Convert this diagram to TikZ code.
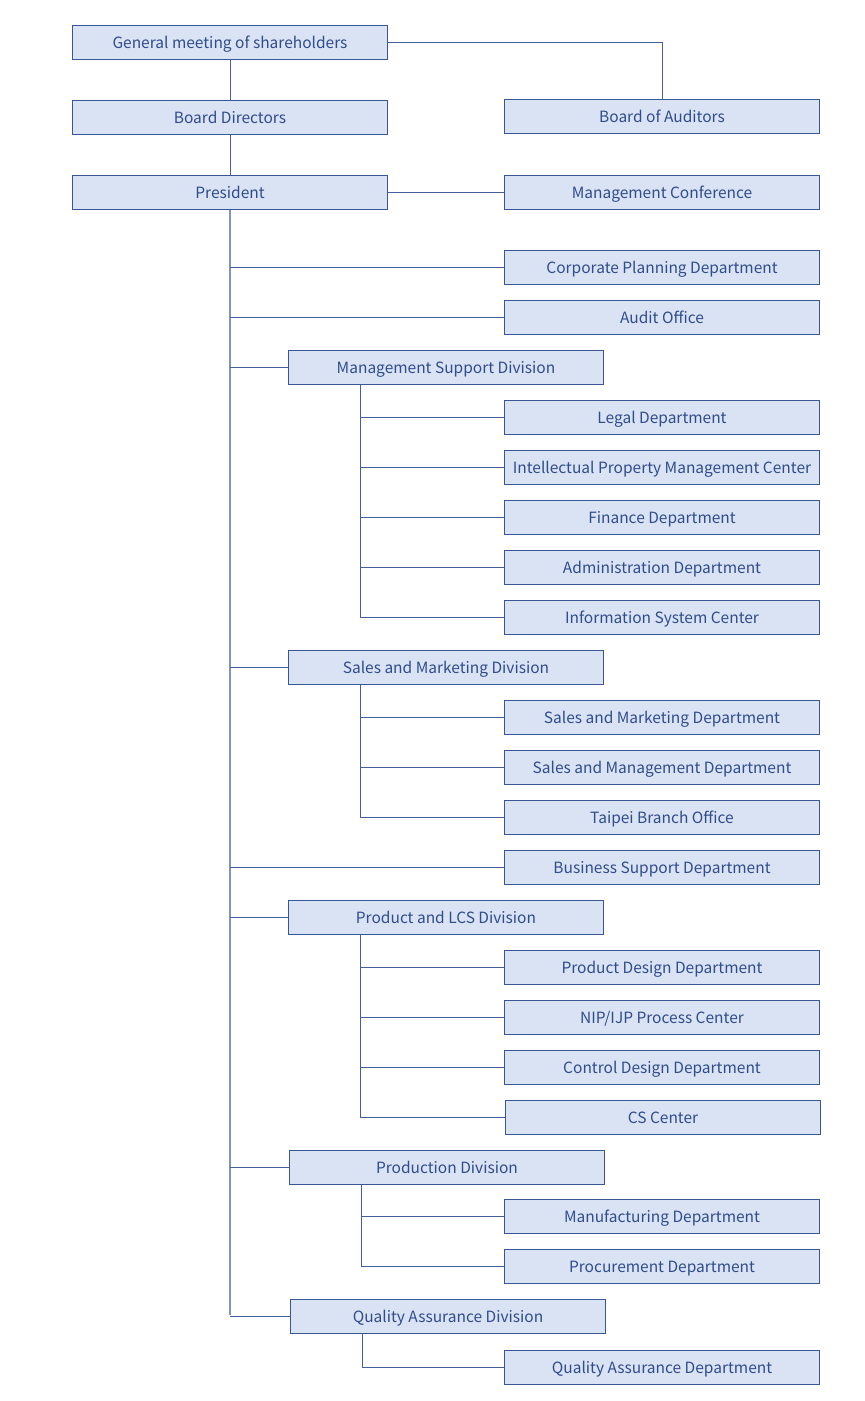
\documentclass[tikz,border=0pt]{standalone}
\usepackage{fontspec}
\setmainfont{Noto Sans CJK JP}
\definecolor{boxfill}{HTML}{DAE3F3}
\definecolor{boxline}{HTML}{3A5795}
\definecolor{txt}{HTML}{2F4C8C}
\definecolor{conn}{HTML}{44609C}
\definecolor{trunk}{HTML}{7F95BE}
\begin{document}
\begin{tikzpicture}[x=1pt,y=-1pt,
  box/.style={draw=boxline,fill=boxfill,line width=1pt,minimum width=315pt,minimum height=34pt,
    inner sep=0pt,text height=11pt,text depth=0pt,text=txt,font=\fontsize{15.5}{17}\selectfont,anchor=north west},
  ln/.style={draw=conn,line width=0.9pt},
  tr/.style={draw=trunk,line width=1.2pt}]
\useasboundingbox (0,0) rectangle (865,1401);
\node[box] (gm) at (72,25) {General meeting of shareholders};
\node[box] (bd) at (72,100) {Board Directors};
\node[box] (pr) at (72,175) {President};
\node[box] (ba) at (504,99) {Board of Auditors};
\node[box] (mc) at (504,175) {Management Conference};
\node[box] (cp) at (504,250) {Corporate Planning Department};
\node[box] (ao) at (504,300) {Audit Office};
\node[box] (msd) at (288,350) {Management Support Division};
\node[box] (lg) at (504,400) {Legal Department};
\node[box] (ip) at (504,450) {Intellectual Property Management Center};
\node[box] (fd) at (504,500) {Finance Department};
\node[box] (ad) at (504,550) {Administration Department};
\node[box] (is) at (504,600) {Information System Center};
\node[box] (smd) at (288,650) {Sales and Marketing Division};
\node[box] (smdep) at (504,700) {Sales and Marketing Department};
\node[box] (smg) at (504,750) {Sales and Management Department};
\node[box] (tb) at (504,800) {Taipei Branch Office};
\node[box] (bs) at (504,850) {Business Support Department};
\node[box] (pld) at (288,900) {Product and LCS Division};
\node[box] (pdd) at (504,950) {Product Design Department};
\node[box] (nip) at (504,1000) {NIP/IJP Process Center};
\node[box] (cd) at (504,1050) {Control Design Department};
\node[box] (cs) at (505,1100) {CS Center};
\node[box] (prd) at (289,1150) {Production Division};
\node[box] (mf) at (504,1199) {Manufacturing Department};
\node[box] (pc) at (504,1249) {Procurement Department};
\node[box] (qad) at (290,1299) {Quality Assurance Division};
\node[box] (qa) at (504,1350) {Quality Assurance Department};
% coordinates
\coordinate (tb0) at (230,209);
\coordinate (tb1) at (230,1315);
% top links
\draw[ln] (gm.south) -- (bd.north);
\draw[ln] (bd.south) -- (pr.north);
\draw[ln] (gm.east) -| (ba.north);
\draw[ln] (pr.east) -- (mc.west);
% trunk
\draw[tr] (pr.south) -- (tb1);
\foreach \n in {cp,ao,bs}{\draw[ln] (\n.west) -- (\n.west -| tb0);}
\foreach \n in {msd,smd,pld,prd,qad}{\draw[ln] (\n.west) -- (\n.west -| tb0);}
% sub trees
\foreach \d/\last/\kids in {msd/is/{lg,ip,fd,ad,is}, smd/tb/{smdep,smg,tb}, pld/cs/{pdd,nip,cd,cs}, prd/pc/{mf,pc}, qad/qa/{qa}}{
  \coordinate (sx) at ([xshift=-85.5pt]\d.south);
  \draw[ln] (sx) -- (sx |- \last.west);
  \foreach \k in \kids {\draw[ln] (\k.west) -- (\k.west -| sx);}
}
\end{tikzpicture}
\end{document}
